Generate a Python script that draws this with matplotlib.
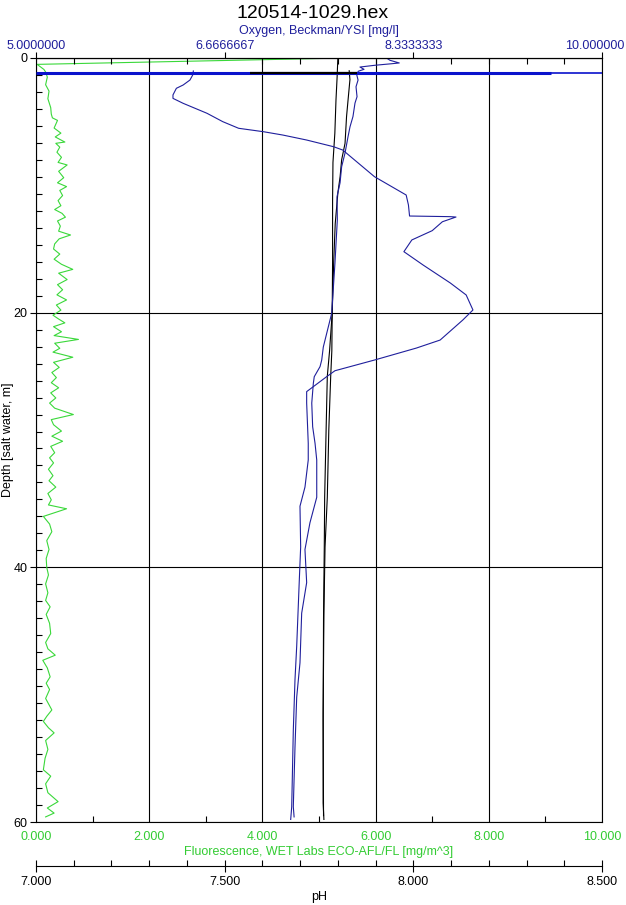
import numpy as np
import matplotlib
matplotlib.use('Agg')
import matplotlib.pyplot as plt
from matplotlib.ticker import FixedLocator, FixedFormatter

plt.rcParams['font.family'] = ['Liberation Sans', 'DejaVu Sans']

# fluorescence profile [mg/m^3] vs depth [m]
fl_depth = [
    0.0, 0.5, 0.9, 1.1, 1.5, 2.1, 2.6, 3.2, 3.9, 4.4,
    4.7, 4.9, 5.5, 5.9, 6.2, 6.6, 6.7, 7.0, 7.4, 7.8,
    8.2, 8.4, 8.9, 9.4, 9.8, 10.1, 10.4, 10.8, 11.2, 11.6,
    11.9, 12.2, 12.5, 12.8, 13.2, 13.6, 13.9, 14.2, 14.6, 15.0,
    15.4, 15.8, 16.2, 16.6, 16.9, 17.4, 17.8, 18.2, 18.6, 19.0,
    19.4, 19.8, 20.2, 20.5, 20.8, 21.1, 21.5, 21.8, 22.1, 22.4,
    22.8, 23.1, 23.5, 23.9, 24.3, 24.7, 25.1, 25.5, 25.9, 26.3,
    26.7, 27.1, 27.5, 28.0, 28.4, 28.8, 29.3, 29.7, 30.1, 30.5,
    31.0, 31.4, 31.8, 32.3, 32.8, 33.2, 33.7, 34.2, 34.7, 35.1,
    35.4, 36.0, 36.6, 37.2, 37.9, 38.6, 39.3, 40.0, 40.6, 41.3,
    42.0, 42.6, 43.1, 43.7, 44.4, 45.2, 45.9, 46.4, 46.9, 47.3,
    47.9, 48.6, 49.1, 49.6, 50.3, 51.2, 51.7, 52.1, 52.6, 53.0,
    53.6, 54.3, 55.0, 55.9, 56.4, 57.0, 57.7, 58.4, 58.9, 59.3,
    59.6]
fl_val = [
    5.45, 0.02, 0.14, 0.17, 0.20, 0.17, 0.23, 0.21, 0.26, 0.27,
    0.29, 0.38, 0.32, 0.44, 0.34, 0.51, 0.35, 0.42, 0.37, 0.45,
    0.39, 0.55, 0.40, 0.49, 0.38, 0.54, 0.42, 0.47, 0.39, 0.44,
    0.33, 0.46, 0.52, 0.38, 0.43, 0.40, 0.61, 0.41, 0.33, 0.31,
    0.42, 0.32, 0.45, 0.65, 0.40, 0.55, 0.38, 0.47, 0.37, 0.54,
    0.36, 0.44, 0.30, 0.40, 0.51, 0.31, 0.45, 0.32, 0.75, 0.33,
    0.42, 0.30, 0.65, 0.31, 0.41, 0.28, 0.36, 0.27, 0.40, 0.26,
    0.35, 0.24, 0.33, 0.66, 0.27, 0.31, 0.45, 0.28, 0.47, 0.26,
    0.33, 0.24, 0.31, 0.22, 0.30, 0.23, 0.35, 0.21, 0.27, 0.22,
    0.54, 0.13, 0.24, 0.28, 0.19, 0.23, 0.18, 0.19, 0.22, 0.17,
    0.21, 0.17, 0.25, 0.18, 0.24, 0.26, 0.17, 0.21, 0.34, 0.12,
    0.20, 0.25, 0.18, 0.24, 0.17, 0.28, 0.19, 0.13, 0.22, 0.32,
    0.17, 0.21, 0.16, 0.13, 0.26, 0.17, 0.21, 0.39, 0.20, 0.32,
    0.17]

# oxygen [mg/l], downcast
oxy_dn_depth = [0.0, 0.18, 0.39, 0.45, 0.57, 0.71, 0.89, 1.04, 1.3, 1.73,
                2.26, 3.04, 3.54, 4.6, 5.4, 6.2, 7.46, 8.54, 9.8, 10.9,
                12.7, 16.1, 20.05, 22.7, 23.72, 24.24, 25.03, 25.55, 27.1, 28.96,
                30.26, 31.57, 34.5, 36.5, 38.6, 41.2, 43.6, 47.5, 50.2, 54.1,
                58.8, 59.6]
oxy_dn = [8.096, 8.127, 8.209, 8.142, 7.995, 7.862, 7.898, 7.847, 7.833, 7.845,
          7.827, 7.836, 7.818, 7.800, 7.774, 7.756, 7.730, 7.700, 7.686, 7.659,
          7.662, 7.641, 7.612, 7.538, 7.524, 7.509, 7.458, 7.450, 7.436, 7.444,
          7.465, 7.480, 7.480, 7.420, 7.376, 7.391, 7.347, 7.332, 7.303, 7.288,
          7.273, 7.280]

# oxygen [mg/l], upcast
oxy_up_depth = [59.8, 58.8, 52.8, 48.8, 46.2, 41.0, 38.4, 35.2, 33.7, 31.57,
                30.26, 27.1, 26.2, 25.81, 25.03, 24.56, 23.72, 22.78, 22.15, 20.58,
                19.79, 18.61, 17.67, 16.26, 15.21, 14.29, 13.56, 12.86, 12.49, 12.46,
                12.41, 11.54, 10.76, 9.32, 7.23, 6.97, 6.44, 6.05, 5.79, 5.52,
                5.0, 4.34, 3.56, 3.17, 2.9, 2.38, 2.12, 1.73, 1.34, 1.02]
oxy_up = [7.250, 7.259, 7.273, 7.288, 7.303, 7.326, 7.338, 7.332, 7.376, 7.405,
          7.405, 7.391, 7.391, 7.450, 7.567, 7.641, 7.990, 8.360, 8.570, 8.770,
          8.860, 8.800, 8.660, 8.420, 8.250, 8.320, 8.500, 8.590, 8.710, 8.660,
          8.300, 8.290, 8.270, 7.990, 7.710, 7.630, 7.390, 7.180, 7.010, 6.790,
          6.650, 6.510, 6.300, 6.210, 6.210, 6.240, 6.300, 6.360, 6.384, 6.390]

# pH, two casts
ph_a_depth = [0.0, 1.5, 3.3, 5.9, 8.2, 11.2, 16.0, 20.0, 23.0, 25.0,
              29.2, 34.5, 38.4, 43.6, 51.4, 58.5, 59.8]
ph_a = [7.800, 7.798, 7.795, 7.792, 7.787, 7.786, 7.786, 7.785, 7.784, 7.781,
        7.776, 7.772, 7.766, 7.763, 7.761, 7.761, 7.763]
ph_b_depth = [1.0, 1.7, 3.3, 4.6, 6.7, 8.0, 9.3, 10.6, 13.0, 16.0,
              20.0, 23.0, 25.0, 29.0, 34.5, 38.4, 44.0, 52.0, 59.5]
ph_b = [7.830, 7.832, 7.827, 7.823, 7.819, 7.810, 7.806, 7.800, 7.793, 7.789,
        7.785, 7.778, 7.772, 7.769, 7.765, 7.764, 7.762, 7.761, 7.762]

# surface spike (sensors at the surface)
spike_depth = [1.15, 1.15]
spike_oxy = [5.0, 9.55]
spike_oxy_tail = [9.55, 10.0]
spike_ph = [7.567, 7.851]

depth_ticks = [0, 20, 40, 60]
fl_ticks = [0, 2, 4, 6, 8, 10]
fl_ticklabels = ['0.000', '2.000', '4.000', '6.000', '8.000', '10.000']
oxy_ticks = [5.0, 5.0 + 5 / 3, 5.0 + 10 / 3, 10.0]
oxy_ticklabels = ['5.0000000', '6.6666667', '8.3333333', '10.000000']
ph_ticks = [7.0, 7.5, 8.0, 8.5]
ph_ticklabels = ['7.000', '7.500', '8.000', '8.500']

green = '#33cc33'
line_green = '#3ad83a'
navy = '#1f1f9c'
blue = '#0a12cc'

W, H = 626, 905
fig = plt.figure(figsize=(W / 100, H / 100), dpi=100)
ax = fig.add_axes([36 / W, 1 - 822 / H, 566 / W, 764 / H])
ax.set_xlim(0, 10)
ax.set_ylim(60, 0)

# fluorescence axis (bottom) + depth axis (left)
ax.xaxis.set_major_locator(FixedLocator(fl_ticks))
ax.xaxis.set_major_formatter(FixedFormatter(fl_ticklabels))
ax.xaxis.set_minor_locator(FixedLocator(np.arange(0, 11, 1)))
ax.yaxis.set_major_locator(FixedLocator(depth_ticks))
ax.yaxis.set_minor_locator(FixedLocator(np.linspace(0, 60, 46)))
ax.tick_params(axis='x', which='major', length=0, pad=6.5, labelsize=9, labelcolor=green)
ax.tick_params(axis='x', which='minor', direction='in', length=4.5, width=0.8)
ax.tick_params(axis='y', which='major', direction='out', length=4, width=0.8, pad=2, labelsize=9)
ax.tick_params(axis='y', which='minor', direction='in', length=4.5, width=0.8)
ax.grid(True, which='major', color='black', lw=0.8)
ax.set_axisbelow(True)
for s in ax.spines.values():
    s.set_linewidth(0.8)

ax.plot(fl_val, fl_depth, color=line_green, lw=0.8)
ax.set_xlabel('Fluorescence, WET Labs ECO-AFL/FL [mg/m^3]', color=green, fontsize=9)
ax.xaxis.set_label_coords(0.5, -(852 - 822) / 764)
ax.xaxis.label.set_va('center')
ax.set_ylabel('Depth [salt water, m]', fontsize=9)
ax.yaxis.set_label_coords(-(36 - 8) / 566, 0.5)
ax.yaxis.label.set_va('center')

# pH axis (second bottom axis)
ax_ph = ax.twiny()
ax_ph.set_xlim(7.0, 8.5)
ax_ph.xaxis.tick_bottom()
ax_ph.xaxis.set_label_position('bottom')
ax_ph.spines['bottom'].set_position(('outward', 44 * 0.72))
ax_ph.spines['bottom'].set_linewidth(0.8)
for s in ['top', 'left', 'right']:
    ax_ph.spines[s].set_visible(False)
ax_ph.xaxis.set_major_locator(FixedLocator(ph_ticks))
ax_ph.xaxis.set_major_formatter(FixedFormatter(ph_ticklabels))
ax_ph.xaxis.set_minor_locator(FixedLocator(np.linspace(7.0, 8.5, 16)))
ax_ph.tick_params(axis='x', which='major', direction='inout', length=8, width=0.8, pad=3, labelsize=9)
ax_ph.tick_params(axis='x', which='minor', direction='in', length=4.5, width=0.8)
ax_ph.plot(ph_a, ph_a_depth, color='black', lw=0.8)
ax_ph.plot(ph_b, ph_b_depth, color='black', lw=0.8)
ax_ph.set_xlabel('pH', fontsize=9)
ax_ph.xaxis.set_label_coords(0.5, -(897 - 822) / 764)
ax_ph.xaxis.label.set_va('center')

# oxygen axis (top); last label is pulled in so it stays inside the figure
ax_top = ax.twiny()
ax_top.set_xlim(5.0, 10.0)
ax_top.xaxis.set_major_locator(FixedLocator(oxy_ticks))
ax_top.xaxis.set_major_formatter(FixedFormatter(oxy_ticklabels[:-1] + ['']))
ax_top.xaxis.set_minor_locator(FixedLocator(np.linspace(5.0, 10.0, 16)))
ax_top.tick_params(axis='x', which='major', direction='out', length=4, width=0.8, pad=0.5,
                   labelsize=9, labelcolor=navy)
ax_top.tick_params(axis='x', which='minor', direction='in', length=4.5, width=0.8)
ax_top.annotate(oxy_ticklabels[-1], xy=(oxy_ticks[-1], 1), xycoords=('data', 'axes fraction'),
                xytext=(16.5, 4.5), textcoords='offset points', ha='right', va='bottom',
                fontsize=9, color=navy)
for s in ['bottom', 'left', 'right']:
    ax_top.spines[s].set_visible(False)
ax_top.spines['top'].set_linewidth(0.8)
ax_top.plot(oxy_dn, oxy_dn_depth, color=navy, lw=0.8)
ax_top.plot(oxy_up, oxy_up_depth, color=navy, lw=0.8)
ax_top.plot(spike_oxy, spike_depth, color=blue, lw=2.2, solid_capstyle='butt')
ax_top.plot(spike_oxy_tail, spike_depth, color=blue, lw=1.2, solid_capstyle='butt')
ax_top.set_xlabel('Oxygen, Beckman/YSI [mg/l]', color=navy, fontsize=9)
ax_top.xaxis.set_label_coords(0.5, 1 + (58 - 31) / 764)
ax_top.xaxis.label.set_va('center')

# pH surface spike drawn over the oxygen one
ax_ph2 = ax.twiny()
ax_ph2.set_xlim(7.0, 8.5)
ax_ph2.axis('off')
ax_ph2.plot(spike_ph, spike_depth, color='black', lw=1.6, solid_capstyle='butt')

fig.text(0.5, 1 - 13 / H, '120514-1029.hex', ha='center', va='center', fontsize=14)

fig.savefig('out.png', dpi=100)
